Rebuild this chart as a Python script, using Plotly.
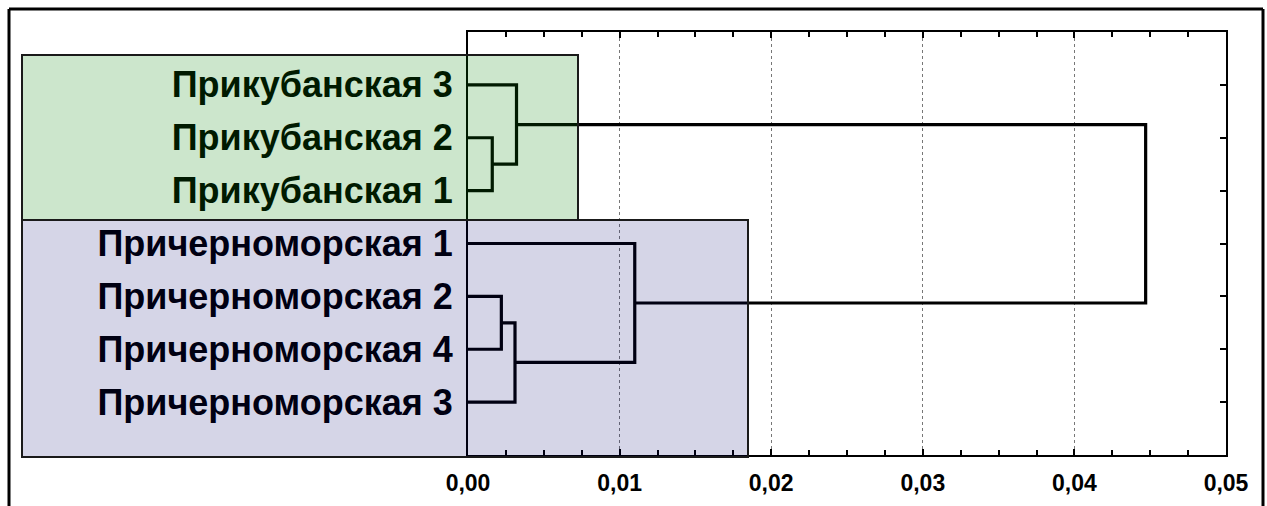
import plotly.graph_objects as go

# ---- data ----
leaf_labels = ["Прикубанская 3", "Прикубанская 2", "Прикубанская 1",
               "Причерноморская 1", "Причерноморская 2", "Причерноморская 4",
               "Причерноморская 3"]
# merges: (child_a, child_b, distance); leaves are 0..6, new nodes 7..12
merge_a = [1, 0, 4, 9, 3, 8]
merge_b = [2, 7, 5, 6, 10, 11]
merge_h = [0.0016, 0.0032, 0.0022, 0.0031, 0.0110, 0.0447]
x_ticks = [0.00, 0.01, 0.02, 0.03, 0.04, 0.05]

W, H = 1267, 506
L, R, T, B = 468, 41, 32, 51
pw, ph = W - L - R, H - T - B

def px(x):
    return (x - L) / pw

def py(y):
    return (H - B - y) / ph

# node positions
ny = {i: i + 1 for i in range(len(leaf_labels))}
nh = {i: 0.0 for i in range(len(leaf_labels))}
fig = go.Figure()
for k, (a, b, h) in enumerate(zip(merge_a, merge_b, merge_h)):
    node = len(leaf_labels) + k
    xs = [nh[a], h, h, nh[b]]
    ys = [ny[a], ny[a], ny[b], ny[b]]
    fig.add_trace(go.Scatter(x=xs, y=ys, mode="lines",
                             line=dict(color="black", width=3.2),
                             hoverinfo="skip", showlegend=False))
    ny[node] = (ny[a] + ny[b]) / 2
    nh[node] = h
# invisible traces to activate the mirror axes
fig.add_trace(go.Scatter(x=[0], y=[1], yaxis="y2", mode="markers",
                         marker=dict(opacity=0), hoverinfo="skip", showlegend=False))
fig.add_trace(go.Scatter(x=[0], y=[1], xaxis="x2", mode="markers",
                         marker=dict(opacity=0), hoverinfo="skip", showlegend=False))

yvals = list(range(1, len(leaf_labels) + 1))
font_lab = dict(family="Liberation Sans, Arial", size=36, color="black", weight="bold")
tick_common = dict(ticks="inside", ticklen=6, tickwidth=2, tickcolor="black")
minor_common = dict(dtick=0.0025, ticks="inside", ticklen=5, tickwidth=2,
                    tickcolor="black", showgrid=False)

fig.update_layout(
    width=W, height=H,
    margin=dict(l=L, r=R, t=T, b=B, autoexpand=False),
    paper_bgcolor="white", plot_bgcolor="rgba(0,0,0,0)",
    separators=", ",
    xaxis=dict(range=[0, 0.05], tickvals=x_ticks, tickformat=".2f",
               showline=True, linecolor="black", linewidth=2,
               showgrid=True, gridcolor="#777777", griddash="dot", gridwidth=1,
               minor=minor_common, ticklabelstandoff=6,
               tickfont=dict(family="Liberation Sans, Arial", size=23,
                             color="black", weight="bold"),
               zeroline=False, fixedrange=True, **tick_common),
    xaxis2=dict(range=[0, 0.05], overlaying="x", side="top", tickvals=x_ticks,
                showticklabels=False, showline=True, linecolor="black",
                linewidth=2, showgrid=False, zeroline=False,
                minor=minor_common, **tick_common),
    yaxis=dict(range=[8, 0], tickvals=yvals, ticktext=leaf_labels,
               showline=True, linecolor="black", linewidth=2,
               ticks="", showgrid=False, zeroline=False,
               tickfont=font_lab, ticklabelstandoff=6),
    yaxis2=dict(range=[8, 0], overlaying="y", side="right", tickvals=yvals,
                showticklabels=False, showline=True, linecolor="black",
                linewidth=2, showgrid=False, zeroline=False, **tick_common),
)

# group boxes (translucent overlays)
fig.add_shape(type="rect", xref="paper", yref="paper",
              x0=px(22), x1=px(578), y0=py(220), y1=py(55),
              fillcolor="rgba(0,128,0,0.2)", line=dict(color="#1a1a1a", width=2),
              layer="above")
fig.add_shape(type="rect", xref="paper", yref="paper",
              x0=px(22), x1=px(748), y0=py(457), y1=py(220),
              fillcolor="rgba(0,0,110,0.165)", line=dict(color="#1a1a1a", width=2),
              layer="above")

# outer frame
for (x0, y0, x1, y1) in [(9, 9, 1263, 9), (9, 9, 9, 530), (1263, 9, 1263, 530)]:
    fig.add_shape(type="line", xref="paper", yref="paper",
                  x0=px(x0), y0=py(y0), x1=px(x1), y1=py(y1),
                  line=dict(color="black", width=3), layer="above")

fig.write_html("out.html")
